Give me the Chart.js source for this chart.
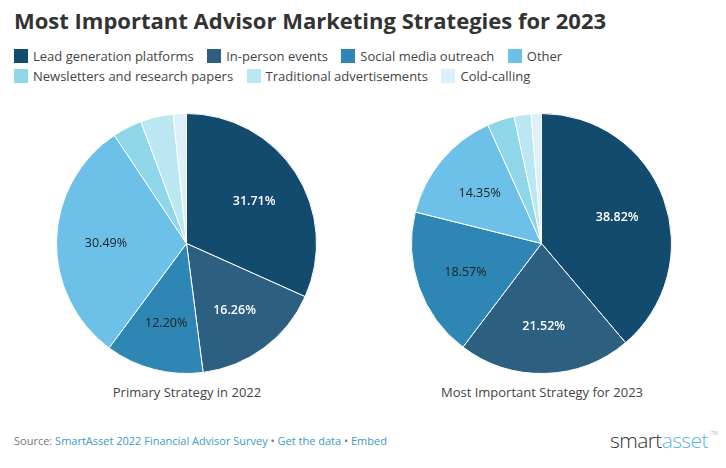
<!DOCTYPE html>
<html>
<head>
<meta charset="utf-8">
<script src="https://cdn.jsdelivr.net/npm/chart.js@4"></script>
<style>
  html, body { margin: 0; padding: 0; background: #fff; }
  body { width: 726px; height: 468px; position: relative; overflow: hidden; font-family: "Open Sans", sans-serif; color: #333; }
  #title { position: absolute; left: 14px; top: 5px; font-size: 22px; font-weight: 700; line-height: 30px; white-space: nowrap; color: #333; }
  .legendRow { position: absolute; left: 14px; height: 20px; font-size: 13px; line-height: 20px; white-space: nowrap; color: #444; }
  .legendItem { display: inline-block; margin-right: 13.5px; }
  .legendItem i { display: inline-block; width: 14px; height: 14px; margin-right: 5px; vertical-align: -2px; }
  .wrap { position: absolute; top: 111px; width: 265px; height: 265px; }
  .wrap canvas { display: block; }
  .sub { position: absolute; top: 383px; font-size: 13px; line-height: 18px; text-align: center; color: #444; white-space: nowrap; }
  #source { position: absolute; left: 14px; top: 432px; font-size: 11px; line-height: 18px; color: #777; white-space: nowrap; }
  #source span { color: #3c9ac9; }
  #logo { position: absolute; left: 610px; top: 426px; font-size: 21px; line-height: 28px; letter-spacing: -0.6px; color: #333; font-weight: 300; white-space: nowrap; }
  #logo span { color: #5bb5e0; }
  #logo sup { position: absolute; left: 101px; top: 5px; font-size: 5px; line-height: 5px; letter-spacing: 0; color: #888; }
</style>
</head>
<body>
<div id="title">Most Important Advisor Marketing Strategies for 2023</div>
<div id="legend"></div>
<div class="wrap" style="left:54px"><canvas id="pie2022"></canvas></div>
<div class="wrap" style="left:409px"><canvas id="pie2023"></canvas></div>
<div class="sub" style="left:57px;width:260px">Primary Strategy in 2022</div>
<div class="sub" style="left:412px;width:260px">Most Important Strategy for 2023</div>
<div id="source">Source: <span>SmartAsset 2022 Financial Advisor Survey</span> • <span>Get the data</span> • <span>Embed</span></div>
<div id="logo">smart<span>asset</span><sup>TM</sup></div>
<script>
// categories and values
var categories = ['Lead generation platforms', 'In-person events', 'Social media outreach', 'Other',
    'Newsletters and research papers', 'Traditional advertisements', 'Cold-calling'];
var values2022 = [31.71, 16.26, 12.20, 30.49, 3.66, 4.07, 1.63];
var values2023 = [38.82, 21.52, 18.57, 14.35, 3.38, 2.11, 1.27];
var colors = ['#134b6f', '#2d6080', '#2e86b5', '#6dc1e8', '#8ed6e8', '#bbe7f2', '#dceffa'];
var labelColors = ['#fff', '#fff', '#222', '#222'];
var labelWeights = ['600', '600', '400', '400'];
var legendRows = [[0, 1, 2, 3], [4, 5, 6]];

// Legend
legendRows.forEach(function(row, r) {
    var div = document.createElement('div');
    div.className = 'legendRow';
    div.style.top = (46 + r * 20) + 'px';
    row.forEach(function(i) {
        var item = document.createElement('span');
        item.className = 'legendItem';
        item.innerHTML = '<i style="background:' + colors[i] + '"></i>' + categories[i];
        div.appendChild(item);
    });
    document.getElementById('legend').appendChild(div);
});

// Percentage labels on the four big slices
var sliceLabels = {
    id: 'sliceLabels',
    afterDatasetsDraw: function(chart) {
        var ctx = chart.ctx;
        var values = chart.data.datasets[0].data;
        ctx.save();
        ctx.textAlign = 'center';
        ctx.textBaseline = 'middle';
        chart.getDatasetMeta(0).data.forEach(function(arc, i) {
            if (i > 3) return;
            var mid = (arc.startAngle + arc.endAngle) / 2;
            var dist = arc.outerRadius * 0.62;
            ctx.font = labelWeights[i] + ' 12.5px "Open Sans"';
            ctx.fillStyle = labelColors[i];
            ctx.fillText(values[i].toFixed(2) + '%', arc.x + Math.cos(mid) * dist, arc.y + Math.sin(mid) * dist + 2);
        });
        ctx.restore();
    }
};

function makePie(id, values) {
    new Chart(document.getElementById(id), {
        type: 'pie',
        data: {
            labels: categories,
            datasets: [{ data: values, backgroundColor: colors, borderColor: '#fff', borderWidth: 1 }]
        },
        options: {
            responsive: true,
            maintainAspectRatio: false,
            animation: false,
            layout: { padding: 2 },
            plugins: { legend: { display: false }, tooltip: { enabled: false } }
        },
        plugins: [sliceLabels]
    });
}

makePie('pie2022', values2022);
makePie('pie2023', values2023);
</script>
</body>
</html>
